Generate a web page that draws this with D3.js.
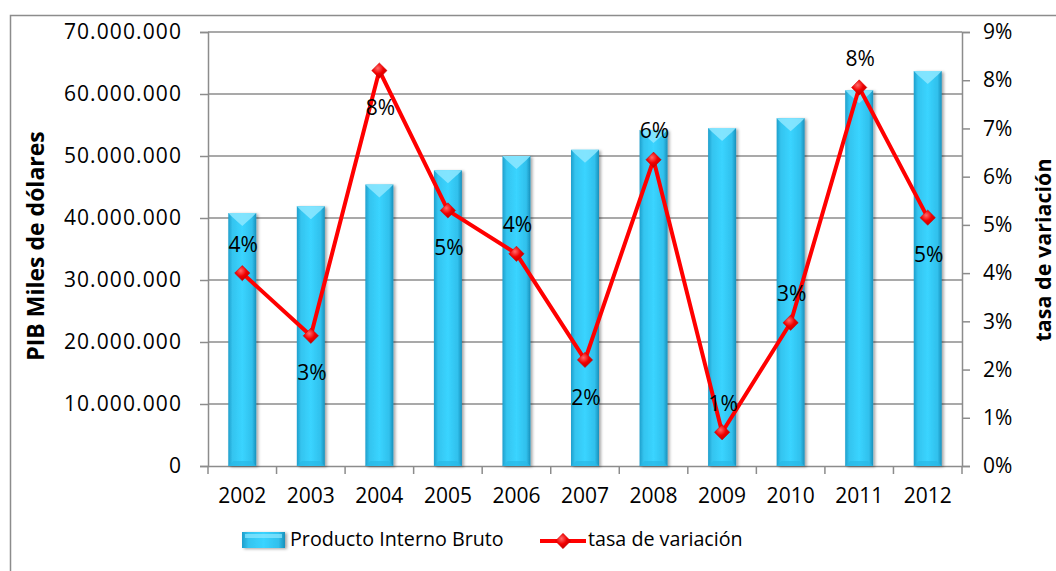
<!DOCTYPE html>
<html><head><meta charset="utf-8">
<script src="https://cdn.jsdelivr.net/npm/d3@7"></script>
<style>
html,body{margin:0;padding:0;background:#fff;}
text{font-family:"Open Sans",sans-serif;fill:#000;}
</style></head>
<body>
<svg id="c" width="1056" height="571"></svg>
<script>
const years = ["2002","2003","2004","2005","2006","2007","2008","2009","2010","2011","2012"];
const pib = [40800000,41900000,45400000,47700000,50000000,51000000,54200000,54500000,56100000,60600000,63700000];
const tasa = [4.0,2.7,8.2,5.3,4.4,2.2,6.35,0.7,2.97,7.85,5.15];
const tasaLabels = ["4%","3%","8%","5%","4%","2%","6%","1%","3%","8%","5%"];
const labelPos = ["above","below","below","below","above","below","above","above","above","above","below"];
const leftTicks = [0,10000000,20000000,30000000,40000000,50000000,60000000,70000000];
const rightTicks = [0,1,2,3,4,5,6,7,8,9];

const svg = d3.select("#c");
const L = 208, R = 962, T = 32, B = 466;

const defs = svg.append("defs");
const g1 = defs.append("linearGradient").attr("id","barg").attr("x1","0").attr("x2","1").attr("y1","0").attr("y2","0");
g1.append("stop").attr("offset","0").attr("stop-color","#1f9fcc");
g1.append("stop").attr("offset","0.15").attr("stop-color","#34c4ef");
g1.append("stop").attr("offset","0.5").attr("stop-color","#3ad4ff");
g1.append("stop").attr("offset","0.85").attr("stop-color","#30c0ec");
g1.append("stop").attr("offset","1").attr("stop-color","#1a90bb");
const g2 = defs.append("radialGradient").attr("id","dia").attr("cx","0.4").attr("cy","0.35").attr("r","0.7");
g2.append("stop").attr("offset","0").attr("stop-color","#ff6a6a");
g2.append("stop").attr("offset","0.5").attr("stop-color","#f20000");
g2.append("stop").attr("offset","1").attr("stop-color","#b80000");
const f = defs.append("filter").attr("id","sh").attr("x","-30%").attr("y","-10%").attr("width","160%").attr("height","130%");
f.append("feDropShadow").attr("dx",2).attr("dy",1).attr("stdDeviation",1.5).attr("flood-color","#000").attr("flood-opacity",0.35);

// outer border
svg.append("rect").attr("x",10.5).attr("y",15.5).attr("width",1070).attr("height",600)
  .attr("fill","none").attr("stroke","#8c8c8c").attr("stroke-width",1.5);

const x = d3.scaleBand().domain(years).range([L,R]).padding(0);
const y = d3.scaleLinear().domain([0,70000000]).range([B,T]);
const y2 = d3.scaleLinear().domain([0,9]).range([B,T]);

// gridlines
svg.append("g").selectAll("line").data(leftTicks.filter(d=>d>0)).join("line")
  .attr("x1",L).attr("x2",R).attr("y1",d=>y(d)).attr("y2",d=>y(d))
  .attr("stroke","#8c8c8c").attr("stroke-width",1.5);

const fmt = d => d===0 ? "0" : d3.format(",")(d).replace(/,/g,".");

// left axis
const ax = svg.append("g").attr("transform",`translate(${L},0)`)
  .call(d3.axisLeft(y).tickValues(leftTicks).tickFormat(fmt).tickSize(8).tickPadding(18));
ax.select(".domain").attr("stroke","#8c8c8c").attr("stroke-width",1.5);
ax.selectAll(".tick line").attr("stroke","#8c8c8c").attr("stroke-width",1.5);
ax.selectAll("text").style("font-size","21px").style("letter-spacing","1.1px").attr("fill","#000");

// right axis
const ar = svg.append("g").attr("transform",`translate(${R},0)`)
  .call(d3.axisRight(y2).tickValues(rightTicks).tickFormat(d=>d+"%").tickSize(8).tickPadding(13));
ar.select(".domain").attr("stroke","#8c8c8c").attr("stroke-width",1.5);
ar.selectAll(".tick line").attr("stroke","#8c8c8c").attr("stroke-width",1.5);
ar.selectAll("text").style("font-size","21px").attr("fill","#000");

// bottom axis
const ab = svg.append("g").attr("transform",`translate(0,${B})`)
  .call(d3.axisBottom(x).tickSize(0).tickPadding(22));
ab.select(".domain").attr("stroke","#8c8c8c").attr("stroke-width",1.5);
ab.selectAll("text").style("font-size","21px").attr("fill","#000");
svg.append("g").selectAll("line").data(years.concat(["end"])).join("line")
  .attr("x1",(d,i)=>L+i*x.step()).attr("x2",(d,i)=>L+i*x.step())
  .attr("y1",B).attr("y2",B+8).attr("stroke","#8c8c8c").attr("stroke-width",1.5);

// bars
const bw = 28;
const bars = svg.append("g");
years.forEach((yr,i)=>{
  const cx = x(yr)+x.bandwidth()/2;
  const top = y(pib[i]);
  const gg = bars.append("g");
  gg.append("rect").attr("x",cx-bw/2).attr("y",top).attr("width",bw).attr("height",B-top)
    .attr("fill","url(#barg)").attr("filter","url(#sh)");
  gg.append("path").attr("d",`M${cx-bw/2},${top} L${cx+bw/2},${top} L${cx+bw/2-4},${top+4} L${cx},${top+13} L${cx-bw/2+4},${top+4} Z`)
    .attr("fill","#8ee8ff").attr("opacity",0.85);
  gg.append("path").attr("d",`M${cx-bw/2},${B} L${cx-bw/2+5},${B-5} L${cx+bw/2-5},${B-5} L${cx+bw/2},${B} Z`)
    .attr("fill","#2ab8e6").attr("opacity",0.7);
});

// line
const line = d3.line().x((d,i)=>x(years[i])+x.bandwidth()/2).y(d=>y2(d));
svg.append("path").datum(tasa).attr("d",line).attr("fill","none")
  .attr("stroke","#ff0000").attr("stroke-width",4).attr("stroke-linejoin","miter");
svg.append("g").selectAll("path").data(tasa).join("path")
  .attr("d",d3.symbol().type(d3.symbolDiamond2).size(150))
  .attr("transform",(d,i)=>`translate(${x(years[i])+x.bandwidth()/2},${y2(d)})`)
  .attr("fill","url(#dia)").attr("stroke","#d00000").attr("stroke-width",0.5);

// data labels
svg.append("g").selectAll("text").data(tasa).join("text")
  .attr("x",(d,i)=>x(years[i])+x.bandwidth()/2+1)
  .attr("y",(d,i)=>y2(d)+(labelPos[i]==="above"?-27:39))
  .attr("text-anchor","middle").attr("dominant-baseline","middle")
  .style("font-size","21px").text((d,i)=>tasaLabels[i]);

// axis titles
svg.append("text").attr("transform","translate(38,246) rotate(-90)")
  .attr("text-anchor","middle").attr("dominant-baseline","middle")
  .style("font-size","23px").style("font-weight","bold").text("PIB Miles de dólares");
svg.append("text").attr("transform","translate(1045,250) rotate(-90)")
  .attr("text-anchor","middle").attr("dominant-baseline","middle")
  .style("font-size","21.5px").style("font-weight","bold").text("tasa de variación");

// legend
const lg = svg.append("g");
lg.append("rect").attr("x",242).attr("y",532).attr("width",43).attr("height",16).attr("fill","url(#barg)").attr("filter","url(#sh)");
lg.append("rect").attr("x",245).attr("y",534).attr("width",37).attr("height",4).attr("fill","#8ee8ff").attr("opacity",0.7);
lg.append("text").attr("x",290).attr("y",541).attr("dominant-baseline","middle").style("font-size","19.7px").text("Producto Interno Bruto");
lg.append("line").attr("x1",540).attr("x2",586).attr("y1",541).attr("y2",541).attr("stroke","#ff0000").attr("stroke-width",4);
lg.append("path").attr("d",d3.symbol().type(d3.symbolDiamond2).size(150)).attr("transform","translate(563,541)")
  .attr("fill","url(#dia)").attr("stroke","#d00000").attr("stroke-width",0.5);
lg.append("text").attr("x",588).attr("y",541).attr("dominant-baseline","middle").style("font-size","19.7px").text("tasa de variación");
</script>
</body></html>
